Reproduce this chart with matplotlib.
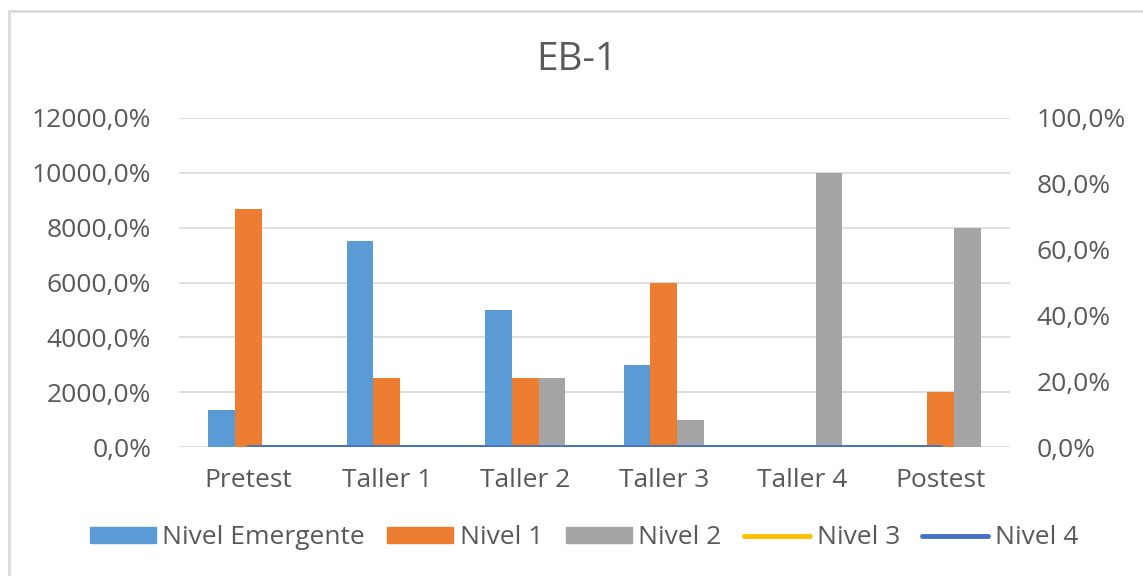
import matplotlib
matplotlib.use("Agg")
import matplotlib.pyplot as plt
import matplotlib.patches as mpatches
from matplotlib.ticker import FuncFormatter, FixedLocator
import numpy as np

plt.rcParams['font.family'] = ['Open Sans', 'DejaVu Sans']

categories = ["Pretest", "Taller 1", "Taller 2", "Taller 3", "Taller 4", "Postest"]
nivel_emergente = [1333.3, 7500.0, 5000.0, 3000.0, 0.0, 0.0]
nivel_1 = [8666.7, 2500.0, 2500.0, 6000.0, 0.0, 2000.0]
nivel_2 = [0.0, 0.0, 2500.0, 1000.0, 10000.0, 8000.0]
nivel_3 = [0.0, 0.0, 0.0, 0.0, 0.0, 0.0]
nivel_4 = [0.0, 0.0, 0.0, 0.0, 0.0, 0.0]
left_ticks = [0, 2000, 4000, 6000, 8000, 10000, 12000]
right_ticks = [0, 20, 40, 60, 80, 100]
title = "EB-1"

c_em = "#5B9BD5"
c_n1 = "#ED7D31"
c_n2 = "#A5A5A5"
c_n3 = "#FFC000"
c_n4 = "#4472C4"
txt = "#595959"
grid = "#D9D9D9"

W, H = 1143, 576
fig = plt.figure(figsize=(W / 100, H / 100), dpi=100)
ax = fig.add_axes([179 / W, 1 - 447 / H, (1010 - 179) / W, (447 - 118) / H])
ax2 = ax.twinx()

x = np.arange(len(categories))
bw = 0.193
ax.bar(x - bw, nivel_emergente, bw, color=c_em, label="Nivel Emergente", zorder=2)
ax.bar(x, nivel_1, bw, color=c_n1, label="Nivel 1", zorder=2)
ax.bar(x + bw, nivel_2, bw, color=c_n2, label="Nivel 2", zorder=2)

l3, = ax2.plot(x, nivel_3, color=c_n3, lw=3.5, solid_capstyle='round', label="Nivel 3", zorder=3)
l4, = ax2.plot(x, nivel_4, color=c_n4, lw=3.5, solid_capstyle='round', label="Nivel 4", zorder=4)

ax.set_xlim(-0.5, len(categories) - 0.5)
ax.set_ylim(0, 12000)
ax2.set_ylim(0, 100)

fmt = lambda v, p: ("%.1f%%" % v).replace('.', ',')
ax.yaxis.set_major_locator(FixedLocator(left_ticks))
ax2.yaxis.set_major_locator(FixedLocator(right_ticks))
ax.yaxis.set_major_formatter(FuncFormatter(fmt))
ax2.yaxis.set_major_formatter(FuncFormatter(fmt))

fs = 19
ax.set_xticks(x)
ax.set_xticklabels(categories)
ax.tick_params(axis='x', length=0, pad=15, labelsize=fs, labelcolor=txt)
ax.tick_params(axis='y', length=0, pad=20, labelsize=fs, labelcolor=txt)
ax2.tick_params(axis='y', length=0, pad=19, labelsize=fs, labelcolor=txt)

ax.grid(axis='y', color=grid, lw=1.2, zorder=0)
ax.set_axisbelow(True)
for a in (ax, ax2):
    for s in a.spines.values():
        s.set_visible(False)

fig.text(577 / W, 1 - 60 / H, title, ha='center', va='center', fontsize=28, color=txt)

handles = [mpatches.Patch(color=c_em, label="Nivel Emergente"),
           mpatches.Patch(color=c_n1, label="Nivel 1"),
           mpatches.Patch(color=c_n2, label="Nivel 2"),
           l3, l4]
leg = fig.legend(handles=handles, loc='center', bbox_to_anchor=(584 / W, 1 - 538 / H),
                 ncol=5, frameon=False, fontsize=fs, handlelength=2.5, handleheight=0.55,
                 handletextpad=0.25, columnspacing=0.85, labelcolor=txt)

fig.patches.append(mpatches.Rectangle((9 / W, -0.1), 1.2, 1 - 11 / H + 0.1,
                                      transform=fig.transFigure, fill=False,
                                      edgecolor=grid, lw=2, clip_on=False))

fig.savefig("out.png", dpi=100, facecolor='white')
